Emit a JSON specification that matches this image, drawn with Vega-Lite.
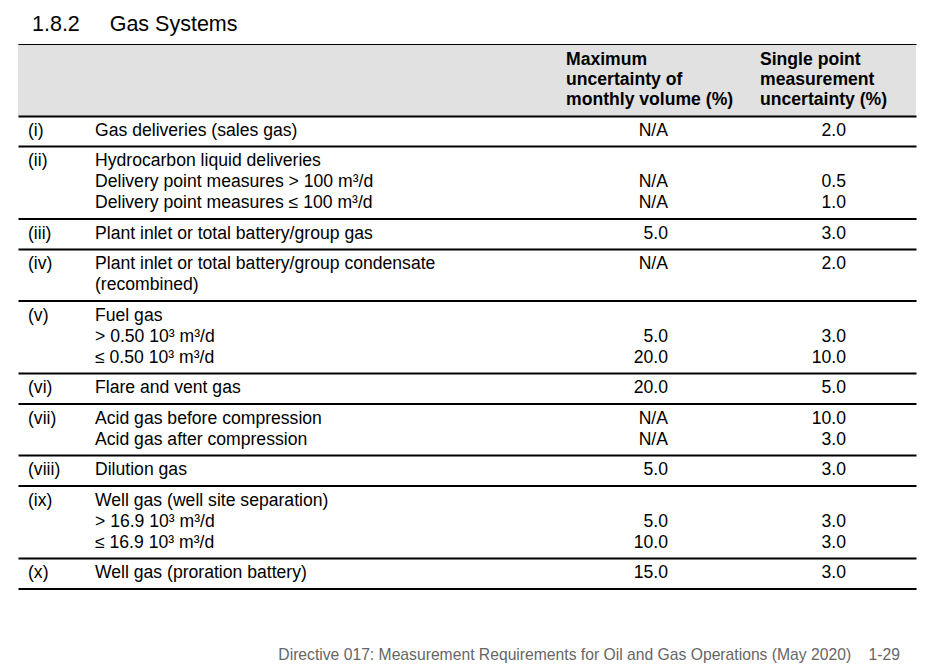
{
  "$schema": "https://vega.github.io/schema/vega-lite/v6.json",
  "background": "white",
  "padding": {"left": 18, "top": 13, "right": 20, "bottom": 0},
  "title": {"text": "1.8.2\u00a0\u00a0\u00a0\u00a0\u00a0Gas Systems", "anchor": "start", "fontSize": 21.5, "font": "Liberation Sans", "fontWeight": "normal", "color": "#000000", "dx": 14, "offset": 9},
  "config": {
    "view": {"stroke": null},
    "font": "Liberation Sans",
    "text": {"fontSize": 17.6, "font": "Liberation Sans", "color": "#000000", "baseline": "middle"}
  },
  "datasets": {
    "header": [
      {"k": 1, "max": "Maximum", "single": "Single point"},
      {"k": 2, "max": "uncertainty of", "single": "measurement"},
      {"k": 3, "max": "monthly volume (%)", "single": "uncertainty (%)"}
    ],
    "rows": [
      {"g": 1, "k": 1, "num": "(i)", "desc": "Gas deliveries (sales gas)", "max": "N/A", "single": "2.0"},
      {"g": 2, "k": 1, "num": "(ii)", "desc": "Hydrocarbon liquid deliveries", "max": "", "single": ""},
      {"g": 2, "k": 2, "num": "", "desc": "Delivery point measures > 100 m³/d", "max": "N/A", "single": "0.5"},
      {"g": 2, "k": 3, "num": "", "desc": "Delivery point measures ≤ 100 m³/d", "max": "N/A", "single": "1.0"},
      {"g": 3, "k": 1, "num": "(iii)", "desc": "Plant inlet or total battery/group gas", "max": "5.0", "single": "3.0"},
      {"g": 4, "k": 1, "num": "(iv)", "desc": "Plant inlet or total battery/group condensate", "max": "N/A", "single": "2.0"},
      {"g": 4, "k": 2, "num": "", "desc": "(recombined)", "max": "", "single": ""},
      {"g": 5, "k": 1, "num": "(v)", "desc": "Fuel gas", "max": "", "single": ""},
      {"g": 5, "k": 2, "num": "", "desc": "> 0.50 10³ m³/d", "max": "5.0", "single": "3.0"},
      {"g": 5, "k": 3, "num": "", "desc": "≤ 0.50 10³ m³/d", "max": "20.0", "single": "10.0"},
      {"g": 6, "k": 1, "num": "(vi)", "desc": "Flare and vent gas", "max": "20.0", "single": "5.0"},
      {"g": 7, "k": 1, "num": "(vii)", "desc": "Acid gas before compression", "max": "N/A", "single": "10.0"},
      {"g": 7, "k": 2, "num": "", "desc": "Acid gas after compression", "max": "N/A", "single": "3.0"},
      {"g": 8, "k": 1, "num": "(viii)", "desc": "Dilution gas", "max": "5.0", "single": "3.0"},
      {"g": 9, "k": 1, "num": "(ix)", "desc": "Well gas (well site separation)", "max": "", "single": ""},
      {"g": 9, "k": 2, "num": "", "desc": "> 16.9 10³ m³/d", "max": "5.0", "single": "3.0"},
      {"g": 9, "k": 3, "num": "", "desc": "≤ 16.9 10³ m³/d", "max": "10.0", "single": "3.0"},
      {"g": 10, "k": 1, "num": "(x)", "desc": "Well gas (proration battery)", "max": "15.0", "single": "3.0"}
    ]
  },
  "spacing": 4,
  "vconcat": [
    {
      "data": {"name": "header"},
      "width": 898,
      "height": 72,
      "view": {"fill": "#e1e1e1", "stroke": null},
      "layer": [
        {
          "mark": {"type": "text", "align": "left", "fontWeight": "bold"},
          "encoding": {
            "x": {"datum": 548, "type": "quantitative", "scale": {"domain": [0, 898], "nice": false, "zero": false}, "axis": {"orient": "top", "title": null, "labels": false, "ticks": false, "grid": false, "domainWidth": 1, "domainColor": "#000000"}},
            "y": {"field": "k", "type": "ordinal", "scale": {"type": "point", "padding": 0.8}, "axis": null},
            "text": {"field": "max"}
          }
        },
        {
          "mark": {"type": "text", "align": "left", "fontWeight": "bold"},
          "encoding": {
            "x": {"datum": 742, "type": "quantitative", "scale": {"domain": [0, 898], "nice": false, "zero": false}, "axis": {"orient": "bottom", "title": null, "labels": false, "ticks": false, "grid": false, "domainWidth": 2, "domainColor": "#000000"}},
            "y": {"field": "k", "type": "ordinal", "scale": {"type": "point", "padding": 0.8}, "axis": null},
            "text": {"field": "single"}
          }
        }
      ],
      "resolve": {"scale": {"x": "independent"}}
    },
    {
      "data": {"name": "rows"},
      "facet": {"row": {"field": "g", "type": "ordinal", "header": null}},
      "spacing": {"row": 4.5},
      "title": {"text": "Directive 017: Measurement Requirements for Oil and Gas Operations (May 2020)\u00a0\u00a0\u00a0\u00a01-29", "orient": "bottom", "anchor": "end", "fontSize": 15.7, "fontWeight": "normal", "font": "Liberation Sans", "color": "#666666", "offset": 59, "dx": -16},
      "spec": {
        "width": 898,
        "height": {"step": 21},
        "layer": [
          {
            "mark": {"type": "text", "align": "left"},
            "encoding": {
              "x": {"datum": 10, "type": "quantitative", "scale": {"domain": [0, 898], "nice": false, "zero": false}, "axis": {"orient": "bottom", "offset": 5, "title": null, "labels": false, "ticks": false, "grid": false, "domainWidth": 2, "domainColor": "#000000"}},
              "y": {"field": "k", "type": "ordinal", "axis": null},
              "text": {"field": "num"}
            }
          },
          {
            "mark": {"type": "text", "align": "left"},
            "encoding": {
              "x": {"datum": 77, "type": "quantitative", "scale": {"domain": [0, 898], "nice": false, "zero": false}, "axis": {"orient": "bottom", "offset": 5, "title": null, "labels": false, "ticks": false, "grid": false, "domainWidth": 2, "domainColor": "#000000"}},
              "y": {"field": "k", "type": "ordinal", "axis": null},
              "text": {"field": "desc"}
            }
          },
          {
            "mark": {"type": "text", "align": "right"},
            "encoding": {
              "x": {"datum": 650, "type": "quantitative", "scale": {"domain": [0, 898], "nice": false, "zero": false}, "axis": {"orient": "bottom", "offset": 5, "title": null, "labels": false, "ticks": false, "grid": false, "domainWidth": 2, "domainColor": "#000000"}},
              "y": {"field": "k", "type": "ordinal", "axis": null},
              "text": {"field": "max"}
            }
          },
          {
            "mark": {"type": "text", "align": "right"},
            "encoding": {
              "x": {"datum": 828, "type": "quantitative", "scale": {"domain": [0, 898], "nice": false, "zero": false}, "axis": {"orient": "bottom", "offset": 5, "title": null, "labels": false, "ticks": false, "grid": false, "domainWidth": 2, "domainColor": "#000000"}},
              "y": {"field": "k", "type": "ordinal", "axis": null},
              "text": {"field": "single"}
            }
          }
        ]
      },
      "resolve": {"scale": {"y": "independent"}, "axis": {"x": "independent"}}
    }
  ]
}
